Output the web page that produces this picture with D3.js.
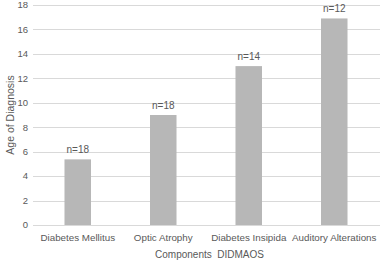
<!DOCTYPE html>
<html>
<head>
<meta charset="utf-8">
<script src="https://cdn.jsdelivr.net/npm/d3@7"></script>
<style>
  body { margin: 0; background: #fff; }
  svg text { font-family: "Liberation Sans", Arial, sans-serif; fill: #595959; }
</style>
</head>
<body>
<div id="chart"></div>
<script>
const categories = ["Diabetes Mellitus", "Optic Atrophy", "Diabetes Insipida", "Auditory Alterations"];
const ages = [5.37, 9, 13, 16.9];
const counts = ["n=18", "n=18", "n=14", "n=12"];
const yTicks = [0, 2, 4, 6, 8, 10, 12, 14, 16, 18];

const width = 380;
const height = 262;
const margin = { top: 5, right: 3, bottom: 37, left: 35 };

const svg = d3.select("#chart")
  .append("svg")
  .attr("width", width)
  .attr("height", height);

const x = d3.scaleBand()
  .domain(categories)
  .range([margin.left, width - margin.right])
  .paddingInner(0.69)
  .paddingOuter(0.345);

const y = d3.scaleLinear()
  .domain([0, 18])
  .range([height - margin.bottom, margin.top]);

// gridlines
svg.append("g")
  .selectAll("line")
  .data(yTicks)
  .enter()
  .append("line")
  .attr("x1", margin.left - 2)
  .attr("x2", width)
  .attr("y1", d => Math.round(y(d)) + 0.5)
  .attr("y2", d => Math.round(y(d)) + 0.5)
  .attr("stroke", "#d9d9d9")
  .attr("stroke-width", 1);

// y tick labels
svg.append("g")
  .selectAll("text")
  .data(yTicks)
  .enter()
  .append("text")
  .attr("x", margin.left - 7)
  .attr("y", d => y(d))
  .attr("dy", "0.35em")
  .attr("text-anchor", "end")
  .attr("font-size", "9.5px")
  .text(d => d);

// bars
svg.append("g")
  .selectAll("rect")
  .data(categories)
  .enter()
  .append("rect")
  .attr("x", d => x(d))
  .attr("width", x.bandwidth())
  .attr("y", (d, i) => y(ages[i]))
  .attr("height", (d, i) => y(0) - y(ages[i]))
  .attr("fill", "#b7b7b7");

// n labels
svg.append("g")
  .selectAll("text")
  .data(categories)
  .enter()
  .append("text")
  .attr("x", d => x(d) + x.bandwidth() / 2)
  .attr("y", (d, i) => y(ages[i]) - 6)
  .attr("text-anchor", "middle")
  .attr("font-size", "10px")
  .text((d, i) => counts[i]);

// x axis labels
svg.append("g")
  .selectAll("text")
  .data(categories)
  .enter()
  .append("text")
  .attr("x", d => x(d) + x.bandwidth() / 2)
  .attr("y", height - margin.bottom + 15.5)
  .attr("text-anchor", "middle")
  .attr("font-size", "9.8px")
  .text(d => d);

// axis titles
svg.append("text")
  .attr("x", (margin.left + width) / 2 + 2)
  .attr("y", height - 4)
  .attr("text-anchor", "middle")
  .attr("font-size", "10px")
  .attr("xml:space", "preserve")
  .text("Components  DIDMAOS");

svg.append("text")
  .attr("transform", `translate(13.5,${(margin.top + height - margin.bottom) / 2}) rotate(-90)`)
  .attr("text-anchor", "middle")
  .attr("font-size", "10.5px")
  .text("Age of Diagnosis");
</script>
</body>
</html>
